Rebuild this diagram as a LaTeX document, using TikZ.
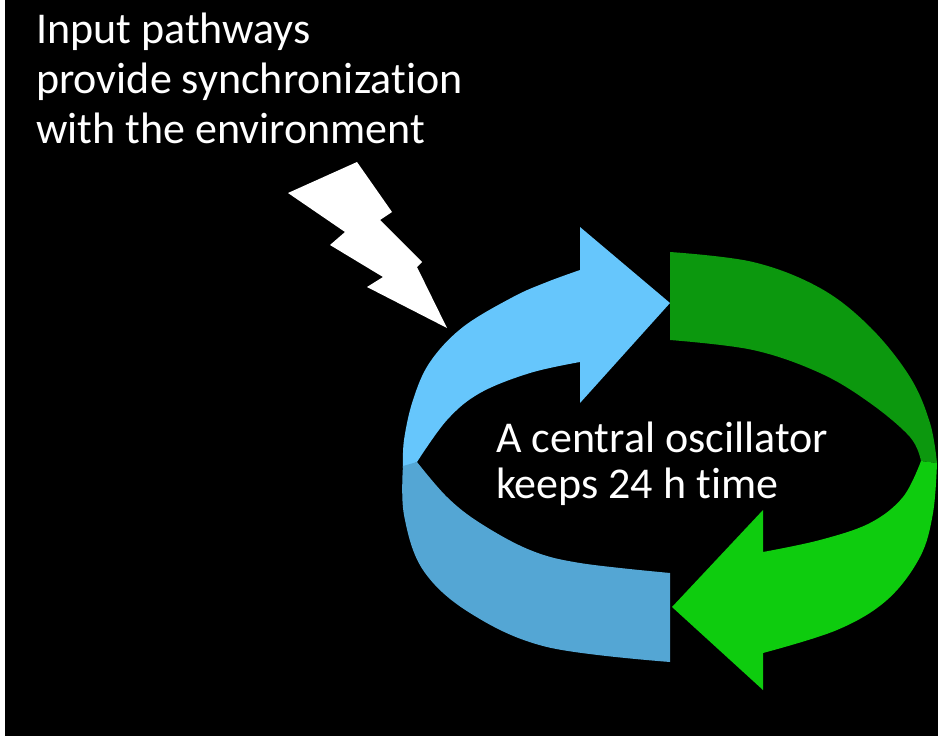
\documentclass[tikz,border=0pt]{standalone}
\usepackage{fontspec}
\setmainfont{Carlito}[Ligatures={NoCommon,NoRare,NoContextual}]
\definecolor{lblue}{RGB}{102,198,252}
\definecolor{dblue}{RGB}{84,166,212}
\definecolor{dgreen}{RGB}{12,152,14}
\definecolor{bgreen}{RGB}{14,204,14}
\tikzset{
  lbl/.style={text=white,inner sep=0pt,anchor=base west,font=\fontsize{44}{50}\selectfont},
  bolt/.style={fill=white},
}
\begin{document}
\begin{tikzpicture}[x=1pt,y=-1pt]
\useasboundingbox (0,0) rectangle (938,739);
\fill[white] (0,0) rectangle (938,739);
\fill[black] (5,0) rectangle (938,736);
% light blue upper band with arrowhead
\fill[lblue] (403,468) -- plot[smooth,tension=0.6] coordinates {(403,468) (404,440) (413,400) (430,362) (463,327) (513,297) (547,282) (580,270)}
  -- (580,227) -- (670,303) -- (580,403) -- (580,362)
  -- plot[smooth,tension=0.6] coordinates {(580,362) (530,373) (480,393) (447,420) (417,462)} -- cycle;
% dark blue lower band
\fill[dblue] (403,466) -- plot[smooth,tension=0.6] coordinates {(403,466) (404,515) (423,570) (470,613) (547,647) (670,662)}
  -- (670,573)
  -- plot[smooth,tension=0.6] coordinates {(670,573) (580,563) (530,550) (480,523) (447,497) (417,462)} -- cycle;
% dark green upper band
\fill[dgreen] (670,252) -- plot[smooth,tension=0.6] coordinates {(670,252) (753,262) (820,288) (870,327) (910,377) (930,423) (937,463)}
  -- plot[smooth,tension=0.6] coordinates {(921,461) (910,437) (870,403) (820,373) (753,350) (670,340)} -- cycle;
% bright green lower band with arrowhead
\fill[bgreen] (937,463) -- plot[smooth,tension=0.6] coordinates {(937,463) (933,513) (920,557) (887,600) (837,630) (763,653)}
  -- (763,690) -- (672,607) -- (763,510) -- (763,552)
  -- plot[smooth,tension=0.6] coordinates {(763,552) (820,540) (870,523) (903,497) (921,461)} -- cycle;
% lightning bolt
\fill[bolt] (288,193) -- (357,162) -- (392,212) -- (380,220) -- (422,262) -- (417,267)
  -- (447,328) -- (367,287) -- (383,277) -- (330,245) -- (345,232) -- cycle;
% texts
\node[lbl] (t1) at (36,43) {Input pathways};
\node[lbl] (t2) at (36,93) {provide synchronization};
\node[lbl] (t3) at (36,143) {with the environment};
\node[lbl] (c1) at (496,452) {A central oscillator};
\node[lbl] (c2) at (496,498) {keeps 24 h time};
\end{tikzpicture}
\end{document}
